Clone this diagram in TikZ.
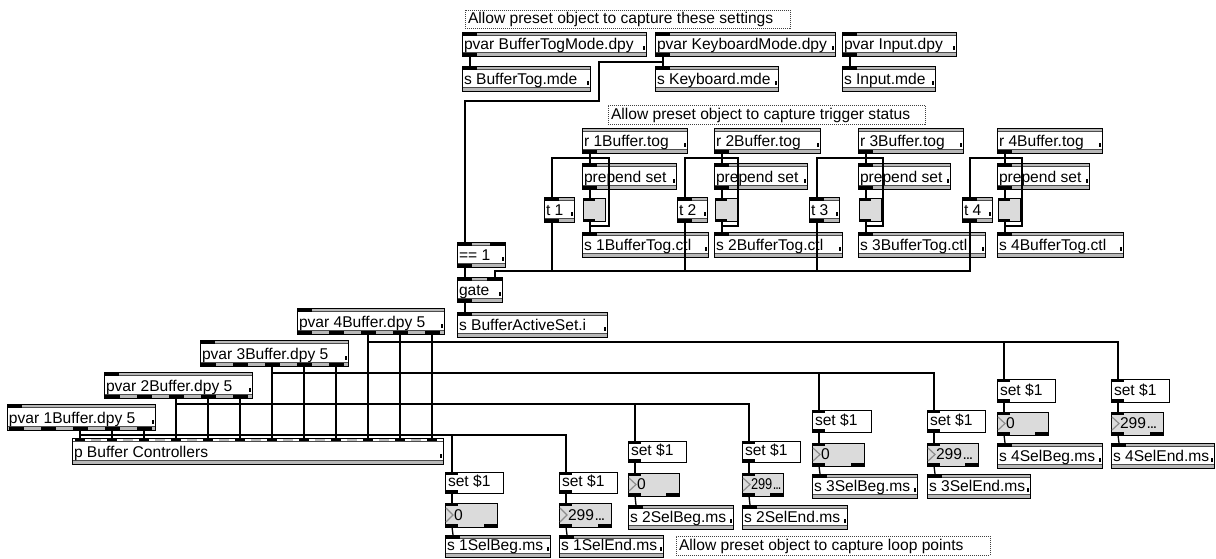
\documentclass[tikz,border=0pt]{standalone}
\usepackage{fontspec}
\usepackage{graphicx}
\setmainfont{Liberation Sans}
\usetikzlibrary{calc}
\definecolor{stripc}{gray}{0.72}
\definecolor{innerc}{gray}{0.30}
\definecolor{boxgray}{gray}{0.86}
\definecolor{chevc}{gray}{0.55}
\newcommand\ndots{299\kern0.6pt.\kern-1.2pt.\kern-1.2pt.}
\tikzset{
  obox/.style={rectangle, draw=black, line width=1pt, fill=white, inner sep=0pt, outer sep=0pt, anchor=north west},
  gbox/.style={obox, fill=boxgray},
  lbl/.style={inner sep=0pt, outer sep=0pt, anchor=base west, font=\fontsize{15.6}{17}\selectfont},
  wire/.style={line width=1.3pt, black},
  cmtline/.style={draw=black!75, line width=0.9pt, dash pattern=on 1pt off 1pt},
  strip/.style={fill=stripc},
  innerln/.style={draw=innerc, line width=0.8pt},
}
% object box: name x1 y1 x2 y2 text
\newcommand\mobj[6]{%
  \node[obox, minimum width={#4-#2}, minimum height={#5-#3}] (#1) at (#2,#3) {};
  \fill[strip] (#2,#3) rectangle (#4,#3+3.5);
  \fill[strip] (#2,#5-3.5) rectangle (#4,#5);
  \draw[innerln] (#2,#3+3.5) -- (#4,#3+3.5);
  \draw[innerln] (#2,#5-3.5) -- (#4,#5-3.5);
  \draw[black, line width=1pt] (#2,#3) rectangle (#4,#5);
  \fill (#4-3.2,#5-10) rectangle (#4-1.4,#5-6);
  \node[lbl] (#1-t) at (#2+2,#5-7) {#6};
  \coordinate (#1-i) at (#2+8,#3);
  \coordinate (#1-o) at (#2+8,#5);
}
% message box
\newcommand\mmsg[6]{%
  \node[obox, minimum width={#4-#2}, minimum height={#5-#3}] (#1) at (#2,#3) {};
  \fill (#2,#3) rectangle (#2+13,#3+2.5);
  \fill (#2,#5-3) rectangle (#2+13,#5);
  \node[lbl] (#1-t) at (#2+3,#5-6.5) {#6};
  \coordinate (#1-i) at (#2+7,#3);
  \coordinate (#1-o) at (#2+7,#5);
}
% number box
\newcommand\mnum[6]{%
  \node[gbox, minimum width={#4-#2}, minimum height={#5-#3}] (#1) at (#2,#3) {};
  \draw[chevc, line width=1.2pt] (#2+1,#3+5) -- (#2+8,{(#3+#5)/2}) -- (#2+1,#5-5);
  \fill (#2,#3) rectangle (#2+13,#3+2.5);
  \fill (#2,#5-3) rectangle (#2+13,#5);
  \fill (#4-13,#5-3) rectangle (#4,#5);
  \node[lbl] (#1-t) at (#2+9,#5-6.5) {#6};
  \coordinate (#1-i) at (#2+7,#3);
  \coordinate (#1-o) at (#2+7,#5);
}
% toggle
\newcommand\mtog[5]{%
  \node[gbox, minimum width={#4-#2}, minimum height={#5-#3}] (#1) at (#2,#3) {};
  \fill (#2,#3) rectangle (#2+12,#3+2.5);
  \fill (#2,#5-2.5) rectangle (#2+12,#5);
  \coordinate (#1-i) at (#2+7,#3);
  \coordinate (#1-o) at (#2+7,#5);
}
% comment
\newcommand\mcmt[6]{%
  \node[rectangle, cmtline, fill=white, inner sep=0pt, outer sep=0pt, anchor=north west, minimum width={#4-#2}, minimum height={#5-#3}] (#1) at (#2,#3) {};
  \node[lbl] (#1-t) at (#2+3,#5-5) {#6};
}
\newcommand\pinb[1]{\fill (#1) rectangle ++(15,3.5);}
\newcommand\poutb[1]{\fill ($(#1)+(0,-3.5)$) rectangle ++(15,3.5);}
\newcommand\pvo[2]{\fill (#1-7.5,#2-3.5) rectangle ++(15,3.5);}
% trigger group: k Rx rW pW sW tL
\newcommand\tgroup[6]{%
  \mobj{r#1}{#2}{128}{#2+#3}{153}{r #1Buffer.tog}
  \poutb{#2,153}
  \mobj{pp#1}{#2}{163}{#2+#4}{189}{prepend set}
  \pinb{#2,163}\poutb{#2,189}
  \mtog{tg#1}{#2+1}{198}{#2+21}{221}
  \mobj{sc#1}{#2}{232}{#2+#5}{257}{s #1BufferTog.ctl}
  \pinb{#2,232}
  \mobj{t#1}{#6}{197}{#6+30}{222}{t #1}
  \pinb{#6,197}\poutb{#6,222}
}
% group wires: k Rx tL rv
\newcommand\tgwires[4]{%
  \draw[wire] (r#1-o) -- (pp#1-i);
  \draw[wire] (pp#1-o) -- (tg#1-i);
  \draw[wire] (tg#1-o) -- (sc#1-i);
  \draw[wire] (r#1-o) |- (#3+8,158) -- (t#1-i);
  \draw[wire] (r#1-o) |- (#4,158) |- (#2+8,226) -- (sc#1-i);
}
\begin{document}
\begin{tikzpicture}[x=1pt,y=-1pt]
\useasboundingbox (0,0) rectangle (1216,558);
\fill[white] (0,0) rectangle (1216,558);

% ---- top section
\mcmt{c1}{465}{10}{790}{28}{Allow preset object to capture these settings}
\mobj{pbt}{462}{32}{646}{56}{pvar BufferTogMode.dpy}
\pinb{462,32}\poutb{462,56}
\mobj{pkb}{655}{32}{835}{56}{pvar KeyboardMode.dpy}
\pinb{655,32}\poutb{655,56}
\mobj{pip}{842}{32}{956}{56}{pvar Input.dpy}
\pinb{842,32}\poutb{842,56}
\mobj{sbt}{462}{66}{590}{91}{s BufferTog.mde}
\pinb{462,66}
\mobj{skb}{655}{66}{778}{91}{s Keyboard.mde}
\pinb{655,66}
\mobj{sip}{842}{66}{935}{91}{s Input.mde}
\pinb{842,66}

\mcmt{c2}{608}{105}{925}{124}{Allow preset object to capture trigger status}

\tgroup{1}{582}{105}{94}{126}{544}
\tgroup{2}{714}{106}{93}{128}{677}
\tgroup{3}{858}{105}{92}{127}{809}
\tgroup{4}{997}{105}{92}{126}{962}

\mobj{eq}{457}{242}{505}{267}{== 1}
\pinb{457,242}\pinb{490,242}\poutb{457,267}
\mobj{gt}{457}{277}{502}{302}{gate}
\pinb{457,277}\pinb{487,277}\poutb{457,302}
\coordinate (gt-i2) at (495,277);
\mobj{sas}{457}{312}{607}{337}{s BufferActiveSet.i}
\pinb{457,312}

% ---- pvar section
\mobj{pv4}{297}{308}{444}{334}{pvar 4Buffer.dpy 5}
\pinb{297,308}\foreach \c in {304,336,368,400,432} {\pvo{\c}{334}}
\mobj{pv3}{200}{340}{348}{366}{pvar 3Buffer.dpy 5}
\pinb{200,340}\foreach \c in {208,240,272,304,336} {\pvo{\c}{366}}
\mobj{pv2}{104}{372}{252}{398}{pvar 2Buffer.dpy 5}
\pinb{104,372}\foreach \c in {112,144,176,208,240} {\pvo{\c}{398}}
\mobj{pv1}{7}{404}{155}{430}{pvar 1Buffer.dpy 5}
\pinb{7,404}\foreach \c in {16,48,80,112,144} {\pvo{\c}{430}}

\node[obox, minimum width=371, minimum height=26] (pbc) at (72,438) {};
\fill[white] (72,438) rectangle (443,441.5);
\foreach \j in {0,2,...,22} {\fill (75+16*\j,438) rectangle ++(10,3.5);}
\foreach \j in {1,3,...,21} {\fill[gray!55] (75+16*\j,438.8) rectangle ++(10,2.7);}
\draw[innerln] (72,441.5) -- (443,441.5);
\fill[strip] (72,460.5) rectangle (443,464);
\draw[innerln] (72,460.5) -- (443,460.5);
\draw[black, line width=1pt] (72,438) rectangle (443,464);
\fill (443-3.2,454) rectangle (443-1.4,458);
\node[lbl] (pbc-t) at (74,457) {p Buffer Controllers};

% ---- set / number / send objects
\mmsg{m1b}{445}{472}{503}{493}{set \$1}
\mnum{n1b}{445}{503}{497}{527}{0}
\mobj{s1b}{445}{535}{550}{557}{s 1SelBeg.ms}\pinb{445,535}
\mmsg{m1e}{559}{472}{617}{493}{set \$1}
\mnum{n1e}{559}{503}{611}{527}{\ndots}
\mobj{s1e}{559}{535}{663}{557}{s 1SelEnd.ms}\pinb{559,535}
\mcmt{c3}{676}{536}{990}{555}{Allow preset object to capture loop points}

\mmsg{m2b}{628}{441}{686}{462}{set \$1}
\mnum{n2b}{628}{473}{679}{496}{0}
\mobj{s2b}{628}{505}{733}{529}{s 2SelBeg.ms}\pinb{628,505}
\mmsg{m2e}{742}{441}{800}{462}{set \$1}
\mnum{n2e}{742}{473}{783}{496}{\scalebox{0.82}[1]{\ndots}}
\mobj{s2e}{742}{505}{847}{529}{s 2SelEnd.ms}\pinb{742,505}

\mmsg{m3b}{812}{410}{871}{432}{set \$1}
\mnum{n3b}{812}{443}{864}{466}{0}
\mobj{s3b}{812}{474}{917}{498}{s 3SelBeg.ms}\pinb{812,474}
\mmsg{m3e}{927}{410}{985}{432}{set \$1}
\mnum{n3e}{927}{443}{978}{466}{\ndots}
\mobj{s3e}{927}{474}{1030}{498}{s 3SelEnd.ms}\pinb{927,474}

\mmsg{m4b}{997}{379}{1055}{402}{set \$1}
\mnum{n4b}{997}{412}{1048}{435}{0}
\mobj{s4b}{997}{443}{1102}{468}{s 4SelBeg.ms}\pinb{997,443}
\mmsg{m4e}{1111}{379}{1169}{402}{set \$1}
\mnum{n4e}{1111}{412}{1163}{435}{\ndots}
\mobj{s4e}{1111}{443}{1214}{468}{s 4SelEnd.ms}\pinb{1111,443}

% ================= wires
\draw[wire] (pbt-o) -- (sbt-i);
\draw[wire] (pkb-o) -- (skb-i);
\draw[wire] (pip-o) -- (sip-i);
\draw[wire] (pkb-o) |- (599,62) |- (465,101) -- (eq-i);

\tgwires{1}{582}{544}{609}
\tgwires{2}{714}{677}{738}
\tgwires{3}{858}{809}{883}
\tgwires{4}{997}{962}{1022}
\draw[wire] (t1-o) -- (552,271);
\draw[wire] (t2-o) -- (685,271);
\draw[wire] (t3-o) -- (817,271);
\draw[wire] (t4-o) |- (495,271) -- (gt-i2);

\draw[wire] (eq-o) -- (gt-i);
\draw[wire] (gt-o) -- (sas-i);

% pvar -> p Buffer Controllers
\foreach \c in {80,112,144} {\draw[wire] (\c,430) -- (\c,438);}
\foreach \c in {176,208,240} {\draw[wire] (\c,398) -- (\c,438);}
\foreach \c in {272,304,336} {\draw[wire] (\c,366) -- (\c,438);}
\foreach \c in {368,400,432} {\draw[wire] (\c,334) -- (\c,438);}

% pvar -> set $1
\draw[wire] (80,430) |- (452,435) -- (m1b-i);
\draw[wire] (452,435) -| (m1e-i);
\draw[wire] (176,398) |- (635,404) -- (m2b-i);
\draw[wire] (635,404) -| (m2e-i);
\draw[wire] (272,366) |- (819,373) -- (m3b-i);
\draw[wire] (819,373) -| (m3e-i);
\draw[wire] (368,334) |- (1004,342) -- (m4b-i);
\draw[wire] (1004,342) -| (m4e-i);

\foreach \k in {1b,1e,2b,2e,3b,3e,4b,4e} {
  \draw[wire] (m\k-o) -- (n\k-i);
  \draw[wire] (n\k-o) -- (s\k-i);
}
\end{tikzpicture}
\end{document}
